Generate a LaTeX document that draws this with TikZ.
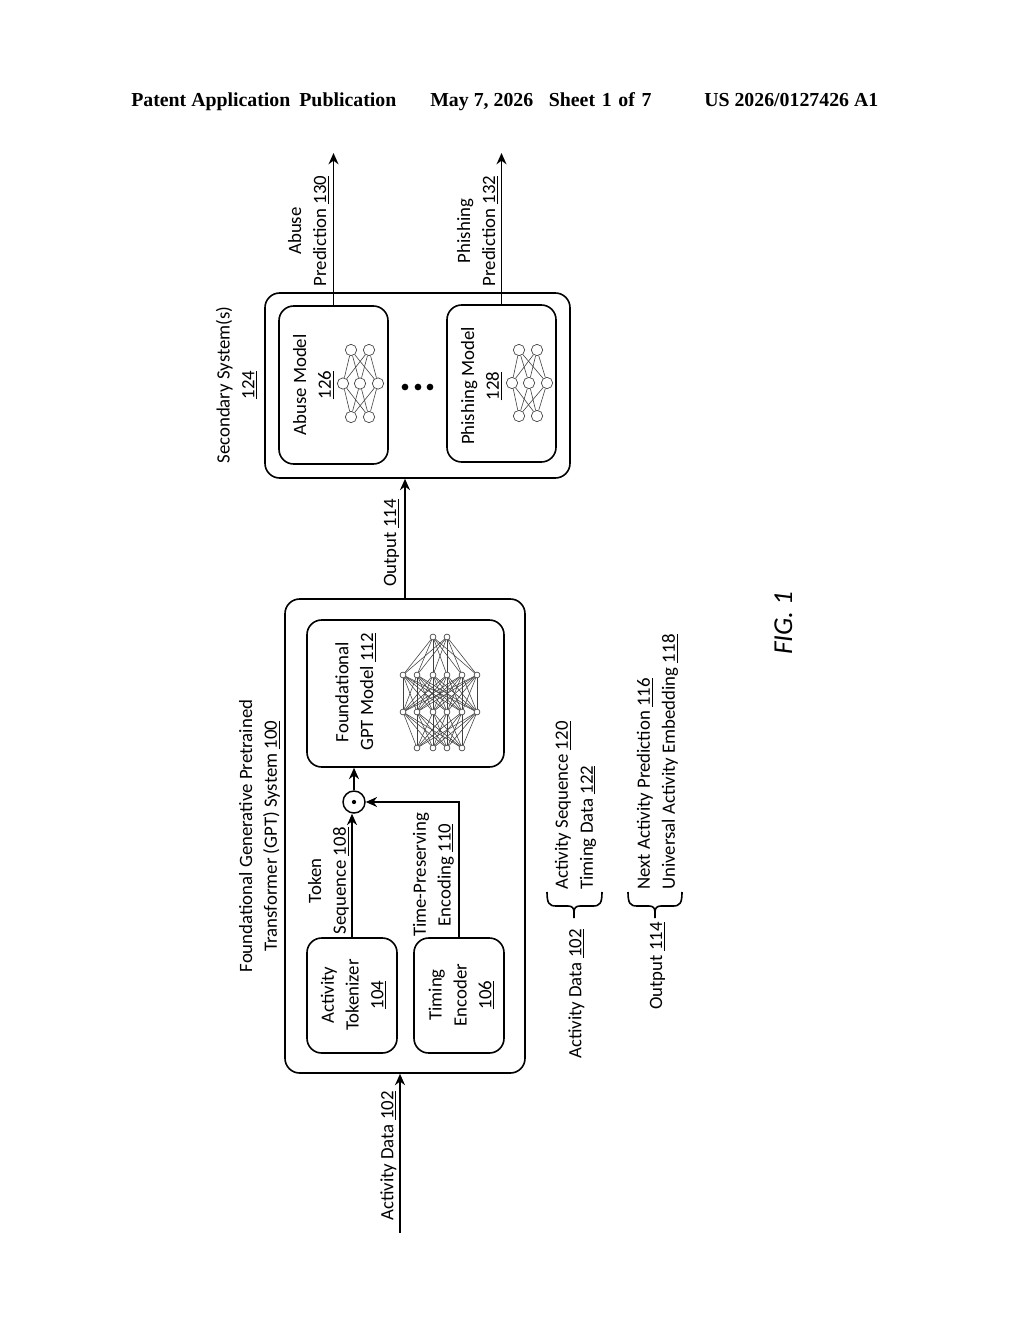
\documentclass[tikz,border=0pt]{standalone}
\usepackage{fontspec}
\setmainfont{Carlito}
\newfontfamily\hdr{Liberation Serif}
\usetikzlibrary{arrows.meta}
\newcommand{\ul}[1]{\underline{#1}}
\newcommand{\wsp}{\ \kern1.3pt}
\tikzset{
  x=0.75pt,y=-0.75pt,
  sz/.style 2 args={minimum width=#1*0.75pt,minimum height=#2*0.75pt},
  box/.style={draw=black,line width=1.2pt,rounded corners=11pt,inner sep=0pt,fill=white},
  lab/.style={rotate=90,align=center,font=\fontsize{14.1}{18.6}\selectfont,inner sep=0pt,yshift=-1.1pt},
  labl/.style={rotate=90,align=left,anchor=west,font=\fontsize{14.1}{18.6}\selectfont,inner sep=0pt,yshift=-1.1pt},
  wire/.style={line width=1.3pt,-{Stealth[length=8.5pt,width=7.5pt]}},
  brc/.style={line width=1.2pt},
  head/.style={font=\hdr\bfseries\fontsize{14.87}{16}\selectfont,anchor=base west,inner sep=0pt},
  nn/.style={circle,draw=black!75,line width=0.5pt,fill=white,inner sep=0pt},
  nnb/.style={nn,minimum size=8.5pt},
  nns/.style={nn,minimum size=4.4pt},
  ne/.style={draw=black!75,line width=0.45pt},
  nf/.style={draw=black!75,line width=0.42pt},
  dotf/.style={circle,fill=black,inner sep=0pt,minimum size=5pt},
}
\newcommand{\smallnet}[8]{%
  \foreach \n/\xx in {1/#2,2/#3} \node[nnb] (#1a\n) at (\xx,#7) {};
  \foreach \n/\xx in {1/#4,2/#5,3/#6} \node[nnb] (#1b\n) at (\xx,{(#7+#8)/2}) {};
  \foreach \n/\xx in {1/#2,2/#3} \node[nnb] (#1c\n) at (\xx,#8) {};
  \foreach \i in {1,2} \foreach \j in {1,2,3} {
    \draw[ne] (#1a\i) -- (#1b\j);
    \draw[ne] (#1c\i) -- (#1b\j);
  }
}
\begin{document}
\begin{tikzpicture}
\useasboundingbox (0,0) rectangle (1024,1320);
% header
\node[head] (h1) at (131,106) {Patent Application\hspace{3pt} Publication};
\node[head] (h2) at (430,106) {May 7, 2026\hspace{8pt} Sheet\wsp 1\wsp of\wsp 7};
\node[head] (h3) at (704,106) {US 2026/0127426 A1};
% boxes
\node[box,sz={240}{474}] (outer) at (405,836) {};
\node[box,sz={90}{115}] (tok) at (352,995.5) {};
\node[box,sz={90}{115}] (tim) at (459,995.5) {};
\node[box,sz={197}{147}] (gpt) at (405.5,693.5) {};
\node[box,sz={305}{185}] (sec) at (417.5,385.5) {};
\node[box,sz={109}{158}] (abu) at (333.5,385) {};
\node[box,sz={109}{157}] (phi) at (501.5,383.5) {};
\node[circle,draw=black,line width=1.1pt,minimum size=16.5pt,inner sep=0pt] (dot) at (354,802) {};
\node[dotf,minimum size=3.2pt] (dotc) at (354,802) {};
% free ends
\coordinate (in) at (400,1233);
\coordinate (aout) at (333.5,153);
\coordinate (pout) at (501.5,153);
% connectors
\draw[wire] (in) -- (in |- outer.south);
\draw[wire] (outer.north) -- (outer.north |- sec.south);
\draw[wire] (abu.north) -- (aout);
\draw[wire] (phi.north) -- (pout);
\draw[wire] (tok.north) -- (tok.north |- dot.south);
\draw[wire] (tim.north) |- (dot.east);
\draw[wire] (dot.north) -- (dot.north |- gpt.south);
% labels
\node[lab] (l100) at (258,836) {Foundational Generative Pretrained\\Transformer (GPT) System \ul{100}};
\node[lab] (l108) at (327,881) {Token\\Sequence \ul{108}};
\node[lab] (l110) at (432,875) {Time-Preserving\\Encoding \ul{110}};
\node[lab] (l104) at (352,995) {Activity\\Tokenizer\\\ul{104}};
\node[lab] (l106) at (460,995) {Timing\\Encoder\\\ul{106}};
\node[lab] (l112) at (354,692) {Foundational\\GPT Model \ul{112}};
\node[lab] (l126) at (312,385) {Abuse Model\\\ul{126}};
\node[lab] (l128) at (480,386) {Phishing Model\\\ul{128}};
\node[lab] (l124) at (235,385) {Secondary System(s)\\\ul{124}};
\node[lab] (l130) at (307,231) {Abuse\\Prediction \ul{130}};
\node[lab] (l132) at (476,231) {Phishing\\Prediction \ul{132}};
\node[lab] (l114) at (390,543) {Output \ul{114}};
\node[lab] (l102) at (387,1156) {Activity Data \ul{102}};
\node[labl] (l120) at (574,890) {Activity Sequence \ul{120}\\Timing Data \ul{122}};
\node[labl] (l116) at (656,890) {Next Activity Prediction \ul{116}\\Universal Activity Embedding \ul{118}};
\node[lab] (l102b) at (575,994) {Activity Data \ul{102}};
\node[lab] (l114b) at (656,966) {Output \ul{114}};
\node[lab,font=\itshape\fontsize{20.5}{24}\selectfont] (fig) at (782,623) {FIG. 1};
% braces
\draw[brc] (547,892) .. controls (547,903) and (549,906) .. (556,906) -- (568,906) .. controls (572,906) and (574,908) .. (574,912) -- (574,918);
\draw[brc] (602,892) .. controls (602,903) and (600,906) .. (593,906) -- (580,906) .. controls (576,906) and (574,908) .. (574,912);
\draw[brc] (628,892) .. controls (628,903) and (630,906) .. (637,906) -- (649,906) .. controls (653,906) and (655,908) .. (655,912) -- (655,918);
\draw[brc] (682,892) .. controls (682,903) and (680,906) .. (673,906) -- (661,906) .. controls (657,906) and (655,908) .. (655,912);
% ellipsis dots
\node[dotf] (d1) at (405,387) {};
\node[dotf] (d2) at (418,387) {};
\node[dotf] (d3) at (430,387) {};
% small networks
\smallnet{p}{351}{369}{343}{360}{378}{350}{417}
\smallnet{q}{519}{537}{512}{529}{547}{350}{416}
% foundational network
\foreach \n/\xx in {1/433,2/447} \node[nns] (fa\n) at (\xx,637) {};
\foreach \n/\xx in {1/403,2/417,3/433,4/447,5/462,6/477} {
  \node[nns] (fb\n) at (\xx,675) {};
  \node[nns] (fc\n) at (\xx,712) {};
}
\foreach \n/\xx in {1/417,2/433,3/447,4/462} \node[nns] (fd\n) at (\xx,748) {};
\foreach \i in {1,2} \foreach \j in {1,...,6} \draw[nf] (fa\i) -- (fb\j);
\foreach \i in {1,...,6} \foreach \j in {1,...,6} \draw[nf] (fb\i) -- (fc\j);
\foreach \i in {1,...,6} \foreach \j in {1,...,4} \draw[nf] (fc\i) -- (fd\j);
\end{tikzpicture}
\end{document}
